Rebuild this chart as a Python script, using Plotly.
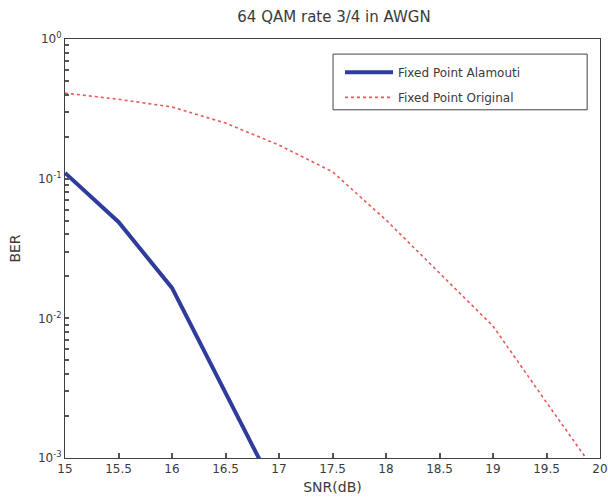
import plotly.graph_objects as go

# SNR sweep (dB) and measured bit error rates
snr_db = [15, 15.5, 16, 16.5, 17, 17.5, 18, 18.5, 19, 19.5, 20]
ber_alamouti = [0.110, 0.049, 0.0165, 0.0029, 0.00052]
ber_original = [0.41, 0.37, 0.326, 0.25, 0.174, 0.112, 0.0506, 0.0211, 0.0088, 0.0025, 0.00072]

x_ticks = [15, 15.5, 16, 16.5, 17, 17.5, 18, 18.5, 19, 19.5, 20]
x_ticktext = ["15", "15.5", "16", "16.5", "17", "17.5", "18", "18.5", "19", "19.5", "20"]
decades = [1e-3, 1e-2, 1e-1, 1]
decade_labels = ["10<sup>-3</sup>", "10<sup>-2</sup>", "10<sup>-1</sup>", "10<sup>0</sup>"]
minor_steps = [2, 3, 4, 5, 6, 7, 8, 9]

# decade ticks carry labels; the in-between log ticks stay unlabelled
y_ticks = []
y_ticktext = []
for d, lab in zip(decades, decade_labels):
    y_ticks.append(d)
    y_ticktext.append(lab)
    if d < 1:
        for m in minor_steps:
            y_ticks.append(d * m)
            y_ticktext.append("")

font_family = "DejaVu Sans, Liberation Sans, sans-serif"
text_color = "#3a3a3a"
axis_color = "#404040"

fig = go.Figure()
fig.add_trace(go.Scatter(
    x=snr_db[:len(ber_alamouti)], y=ber_alamouti, mode="lines",
    name="Fixed Point Alamouti", legendgroup="a",
    line=dict(color="#2f3c9c", width=4),
))
fig.add_trace(go.Scatter(
    x=snr_db, y=ber_original, mode="lines",
    name="Fixed Point Original", legendgroup="b",
    line=dict(color="#e8595a", width=1.6, dash="dot"),
))

# legend frame
fig.add_shape(type="rect", xref="paper", yref="paper",
              x0=0.501, x1=0.976, y0=0.831, y1=0.964,
              line=dict(color="#444444", width=1), fillcolor="white", layer="below")

fig.update_layout(
    width=608, height=497,
    margin=dict(l=65, r=8, t=39, b=39, autoexpand=False),
    paper_bgcolor="white", plot_bgcolor="white",
    font=dict(family=font_family, size=12, color=text_color),
    title=dict(text="64 QAM rate 3/4 in AWGN", x=334 / 608, xanchor="center",
               y=1 - 17 / 497, yanchor="middle", font=dict(size=15, color=text_color)),
    showlegend=True,
    legend=dict(x=(340 - 65) / 535, y=0.955, xanchor="left", yanchor="top",
                bgcolor="rgba(0,0,0,0)", borderwidth=0,
                font=dict(size=12, color=text_color),
                itemwidth=48, tracegroupgap=6),
)
fig.update_xaxes(
    range=[15, 20], tickmode="array", tickvals=x_ticks, ticktext=x_ticktext,
    showline=True, linecolor=axis_color, linewidth=1, mirror=True,
    ticks="inside", ticklen=5, tickwidth=1.5, tickcolor="#555555",
    automargin=False,
    showgrid=False, zeroline=False,
    title=dict(text="SNR(dB)", font=dict(size=14), standoff=6),
)
fig.update_yaxes(
    type="log", range=[-3, 0], tickmode="array", tickvals=y_ticks, ticktext=y_ticktext,
    showline=True, linecolor=axis_color, linewidth=1, mirror=True,
    ticks="inside", ticklen=4, tickwidth=1.5, tickcolor="#555555",
    automargin=False,
    showgrid=False, zeroline=False,
    title=dict(text="BER", font=dict(size=14), standoff=14),
)

fig.write_html("out.html")
